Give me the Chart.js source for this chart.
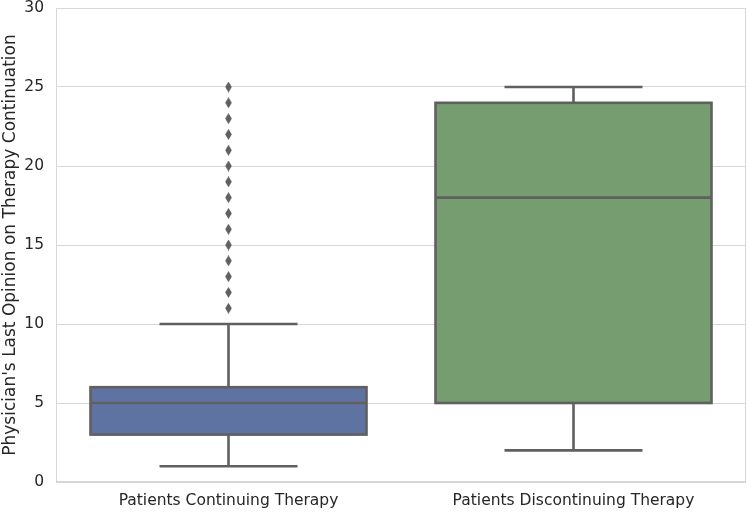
<!DOCTYPE html>
<html><head><meta charset="utf-8">
<script src="https://cdn.jsdelivr.net/npm/chart.js@4.4.1/dist/chart.umd.min.js"></script>
<style>html,body{margin:0;padding:0;background:#fff}#wrap{width:749px;height:512px}</style>
</head><body><div id="wrap"><canvas id="c" width="749" height="512"></canvas></div>
<script>
const categories = ["Patients Continuing Therapy", "Patients Discontinuing Therapy"];
const q1 = [3, 5];
const q3 = [6, 24];
const medians = [5, 18];
const whiskerLow = [1, 2];
const whiskerHigh = [10, 25];
const outliersContinuing = [11,12,13,14,15,16,17,18,19,20,21,22,23,24,25];
const outliersDiscontinuing = [];
const yTicks = [0, 5, 10, 15, 20, 25, 30];
const boxColors = ["#5f73a3", "#759d6f"];
const lineColor = "#606060";

const outlierPoints = [];
outliersContinuing.forEach(v => outlierPoints.push({x: categories[0], y: v}));
outliersDiscontinuing.forEach(v => outlierPoints.push({x: categories[1], y: v}));

// thin diamond marker (like matplotlib 'd')
const diamond = document.createElement('canvas');
diamond.width = 7; diamond.height = 11;
(function(){
  const g = diamond.getContext('2d');
  g.fillStyle = lineColor;
  g.beginPath();
  g.moveTo(3.5, 0); g.lineTo(6.8, 5.5); g.lineTo(3.5, 11); g.lineTo(0.2, 5.5); g.closePath();
  g.fill();
})();

const boxPlugin = {
  id: 'boxExtras',
  beforeDatasetsDraw(chart) {
    const a = chart.chartArea, ctx = chart.ctx;
    ctx.save();
    ctx.strokeStyle = '#d6d6d6';
    ctx.lineWidth = 1;
    ctx.strokeRect(a.left + 0.5, a.top + 0.5, a.right - a.left - 1, a.bottom - a.top - 1);
    ctx.restore();
  },
  afterDatasetsDraw(chart) {
    const ctx = chart.ctx, y = chart.scales.y;
    const meta = chart.getDatasetMeta(1);
    ctx.save();
    ctx.strokeStyle = lineColor;
    ctx.lineWidth = 2.6;
    meta.data.forEach((bar, i) => {
      const cx = bar.x, w = bar.width;
      const yMed = y.getPixelForValue(medians[i]);
      const yQ1 = y.getPixelForValue(q1[i]);
      const yQ3 = y.getPixelForValue(q3[i]);
      const yLo = y.getPixelForValue(whiskerLow[i]);
      const yHi = y.getPixelForValue(whiskerHigh[i]);
      ctx.strokeRect(cx - w/2, yQ3, w, yQ1 - yQ3);
      ctx.beginPath();
      ctx.moveTo(cx - w/2, yMed); ctx.lineTo(cx + w/2, yMed);
      ctx.moveTo(cx, yQ1); ctx.lineTo(cx, yLo);
      ctx.moveTo(cx - w/4, yLo); ctx.lineTo(cx + w/4, yLo);
      ctx.moveTo(cx, yQ3); ctx.lineTo(cx, yHi);
      ctx.moveTo(cx - w/4, yHi); ctx.lineTo(cx + w/4, yHi);
      ctx.stroke();
    });
    ctx.restore();
  }
};

new Chart(document.getElementById('c'), {
  type: 'bar',
  data: {
    labels: categories,
    datasets: [
      {
        type: 'line',
        data: outlierPoints,
        showLine: false,
        pointStyle: diamond,
        pointRadius: 5,
        order: 0
      },
      {
        data: categories.map((c, i) => [q1[i], q3[i]]),
        backgroundColor: boxColors,
        borderWidth: 0,
        barPercentage: 0.8,
        categoryPercentage: 1.0,
        order: 1
      }
    ]
  },
  options: {
    responsive: false,
    animation: false,
    layout: {autoPadding: false, padding: {top: 8, right: 3, left: 0, bottom: 0}},
    plugins: {legend: {display: false}, tooltip: {enabled: false}},
    scales: {
      x: {
        grid: {display: false, drawTicks: false},
        border: {display: false},
        ticks: {color: '#262626', font: {family: 'DejaVu Sans', size: 15.5}, padding: 10},
        afterFit(s) { s.height = 30; s.paddingLeft = 0; s.paddingRight = 0; }
      },
      y: {
        min: 0, max: 30,
        afterBuildTicks(s) { s.ticks = yTicks.map(v => ({value: v})); },
        grid: {color: '#d6d6d6', drawTicks: false},
        border: {display: false},
        ticks: {color: '#262626', font: {family: 'DejaVu Sans', size: 15.5}, padding: 12},
        title: {display: true, text: "Physician's Last Opinion on Therapy Continuation", color: '#262626', font: {family: 'DejaVu Sans', size: 17}, padding: {top: 0, bottom: 2}},
        afterFit(s) { s.width = 56; s.paddingTop = 0; s.paddingBottom = 0; }
      }
    }
  },
  plugins: [boxPlugin]
});
</script>
</body></html>
